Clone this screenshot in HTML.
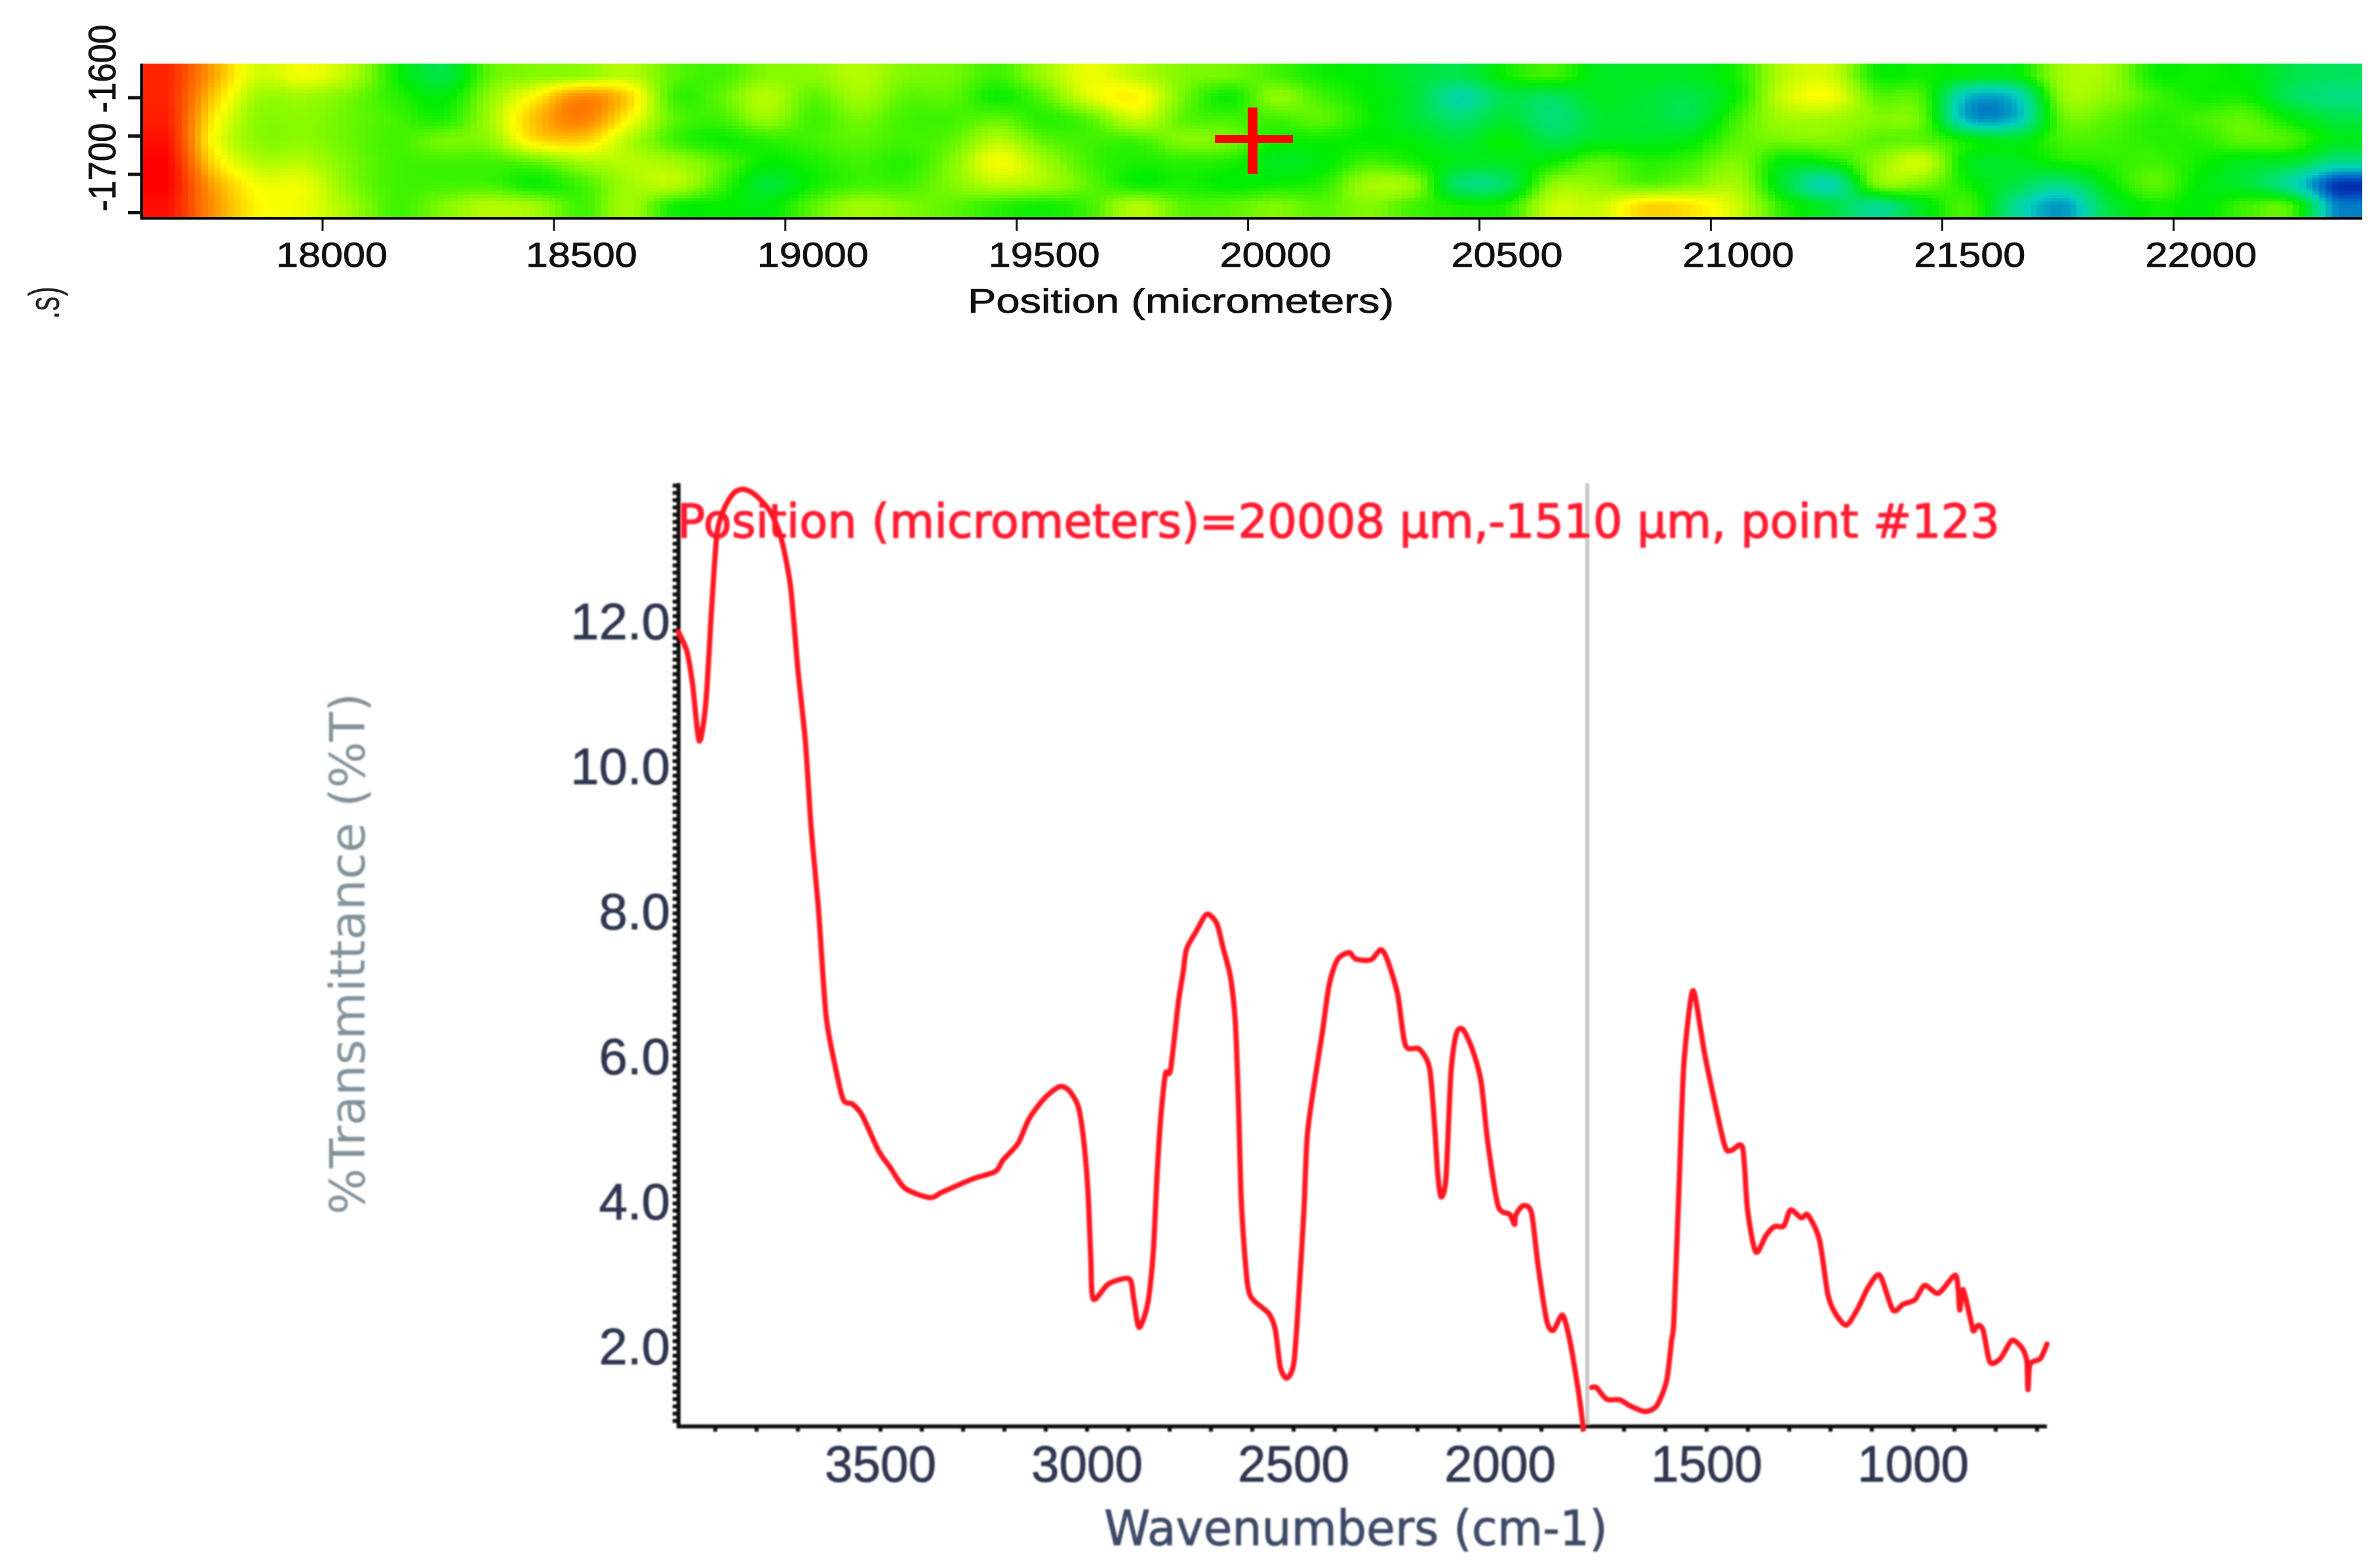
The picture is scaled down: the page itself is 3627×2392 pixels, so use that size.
<!DOCTYPE html>
<html lang="en">
<head>
<meta charset="utf-8">
<title>Position map and FTIR spectrum</title>
<style>
html,body{margin:0;padding:0;background:#fff;}
body{width:3627px;height:2392px;overflow:hidden;}
svg{display:block;}
text{font-family:"Liberation Sans",sans-serif;}
.dj{font-family:"DejaVu Sans","Liberation Sans",sans-serif;}
</style>
</head>
<body>
<svg id="root" xmlns="http://www.w3.org/2000/svg" width="3627" height="2392" viewBox="0 0 3627 2392">
  <defs>
    <filter id="soft" x="-2%" y="-2%" width="104%" height="104%"><feGaussianBlur stdDeviation="1.3"/></filter>
  </defs>
  <g id="map-cells" shape-rendering="crispEdges"></g>
  <g id="map-axes"></g>
  <text x="1801" y="477" text-anchor="middle" font-size="52" textLength="650" lengthAdjust="spacingAndGlyphs" fill="#111" stroke="#111" stroke-width="0.8">Position (micrometers)</text>
  <text transform="translate(90,462) rotate(-90)" text-anchor="middle" font-size="66" textLength="50" lengthAdjust="spacingAndGlyphs" fill="#222">.s)</text>
  <g fill="#ff0000">
    <rect x="1853" y="206" width="119" height="12"/>
    <rect x="1903" y="164" width="15" height="101"/>
  </g>

  <g id="spec-all" filter="url(#soft)">
    <rect x="2418" y="737" width="6" height="1439" fill="#c6c6c6"/>
    <g id="spec-axes"></g>
    <text class="dj" x="1033" y="820" font-size="71" textLength="2017" lengthAdjust="spacingAndGlyphs" fill="#ff1e32" stroke="#ff1e32" stroke-width="1.6">Position (micrometers)=20008 µm,-1510 µm, point #123</text>
    <g id="spec-line"></g>
    <text class="dj" x="2068" y="2357" text-anchor="middle" font-size="74" textLength="768" lengthAdjust="spacingAndGlyphs" fill="#3c4a66" stroke="#3c4a66" stroke-width="1">Wavenumbers (cm-1)</text>
    <text class="dj" transform="translate(556,1455) rotate(-90)" text-anchor="middle" font-size="74" textLength="796" lengthAdjust="spacingAndGlyphs" fill="#82929b">%Transmittance (%T)</text>
  </g>
</svg>
<script>
const heatValues = [
[95,78,63,66,60,46,38,52,55,56,60,52,50,55,56,60,55,54,50,58,65,60,55,54,50,46,44,40,38,46,50,42,42,42,47,60,62,46,46,44,44,58,58,46,46,44,38,36],
[95,74,58,58,54,48,44,56,68,80,72,50,52,60,52,58,52,52,46,52,64,68,54,46,56,50,45,40,28,38,36,42,40,38,46,62,66,52,50,22,24,56,56,50,46,46,36,32],
[96,70,56,56,53,50,47,58,74,82,68,52,50,57,50,54,50,50,52,48,52,62,52,50,50,52,46,40,34,40,33,40,40,38,50,58,58,55,52,20,22,52,52,48,50,52,44,38],
[98,68,56,56,53,50,54,56,70,72,60,50,46,48,50,52,50,52,60,52,50,50,55,54,46,46,45,44,40,45,38,42,42,44,52,54,55,52,52,45,42,50,50,48,48,52,50,42],
[100,72,60,60,54,50,50,50,52,58,60,58,52,45,47,50,48,55,66,58,50,47,48,47,42,44,50,47,42,42,46,52,48,50,55,44,45,56,62,43,42,46,48,50,46,42,40,30],
[100,78,66,65,55,50,50,50,46,50,58,60,50,40,46,50,50,55,60,58,52,46,47,45,46,48,58,56,34,36,56,56,52,55,58,40,27,54,54,46,38,32,44,52,44,40,28,6],
[98,80,68,65,58,50,55,60,58,50,58,46,45,44,52,58,55,52,48,46,50,60,52,52,55,52,55,50,47,48,62,62,72,70,62,48,40,30,42,50,30,18,38,46,44,50,50,15]
];
const colorStops = [0,12,25,35,45,55,67,80,100];
const mapXTickValues = [18000,18500,19000,19500,20000,20500,21000,21500,22000];
const mapYTickValues = [-1600,-1650,-1700,-1750];
const mapYLabels = ["-1600","-1700"];
const specXTickLabels = [3500,3000,2500,2000,1500,1000];
const specYTickLabels = [2,4,6,8,10,12];
const wavenumbers = [3989,3969,3955,3939,3923,3909,3896,3878,3855,3832,3805,3768,3741,3718,3700,3682,3668,3650,3632,3610,3590,3568,3545,3505,3477,3441,3381,3349,3276,3222,3203,3167,3140,3103,3067,3044,3021,3008,2998,2991,2985,2948,2898,2887,2874,2853,2840,2830,2821,2810,2798,2779,2767,2759,2734,2710,2686,2670,2653,2641,2633,2627,2617,2605,2560,2544,2532,2516,2499,2487,2475,2467,2451,2430,2414,2394,2366,2349,2313,2289,2273,2248,2229,2196,2171,2159,2151,2143,2131,2119,2106,2090,2067,2046,2030,2005,1977,1965,1962,1944,1924,1908,1887,1871,1849,1832,1811,1798,1790,1779,1767,1742,1710,1686,1649,1621,1597,1585,1579,1567,1555,1534,1514,1502,1458,1441,1413,1401,1381,1356,1336,1313,1297,1271,1255,1227,1207,1190,1162,1134,1109,1081,1049,1024,996,972,939,899,891,887,879,858,854,842,830,814,789,761,737,725,722,717,692,676];
const transmittance = [11.88,11.62,11.16,10.38,10.90,12.19,13.23,13.59,13.80,13.85,13.78,13.55,13.18,12.51,11.36,10.38,9.18,8.04,6.6,5.90,5.43,5.37,5.22,4.73,4.50,4.21,4.08,4.16,4.34,4.44,4.60,4.83,5.17,5.45,5.61,5.56,5.33,4.86,4.18,3.25,2.68,2.89,2.96,2.68,2.29,2.62,3.30,4.44,5.22,5.79,5.84,6.77,7.20,7.51,7.77,7.99,7.86,7.51,7.13,6.50,5.30,4.09,3.21,2.73,2.48,2.25,1.74,1.59,1.81,2.76,3.90,4.92,5.61,6.37,7.01,7.36,7.46,7.37,7.36,7.50,7.36,6.88,6.18,6.13,5.87,5.11,4.41,4.09,4.35,5.80,6.34,6.40,6.12,5.68,4.85,3.97,3.85,3.71,3.84,3.97,3.87,3.14,2.38,2.25,2.46,2.13,1.43,0.89,null,1.46,1.46,1.30,1.29,1.21,1.13,1.21,1.55,2.10,2.41,4.20,5.92,6.93,6.38,5.98,4.83,4.73,4.77,3.91,3.33,3.56,3.68,3.69,3.91,3.80,3.84,3.50,2.76,2.50,2.32,2.55,2.84,3.01,2.53,2.61,2.67,2.87,2.76,3.01,2.81,2.53,2.81,2.32,2.24,2.32,2.24,1.81,1.86,2.11,2.01,1.83,1.43,1.78,1.86,2.06];

const NS = 'http://www.w3.org/2000/svg';
function shape(tag, parent, attrs, text) {
  const el = document.createElementNS(NS, tag);
  for (const k in attrs) el.setAttribute(k, attrs[k]);
  if (text !== undefined) el.textContent = text;
  parent.appendChild(el);
  return el;
}

/* ---------- heatmap ---------- */
const MAP_L = 217, MAP_R = 3603, MAP_T = 97, MAP_B = 332;
const stopRGB = [[0,0,150],[0,100,200],[0,210,190],[0,225,100],[0,238,0],[130,250,0],[255,255,0],[255,140,0],[255,0,0]];
function heatColor(v) {
  v = Math.max(colorStops[0], Math.min(colorStops[colorStops.length - 1], v));
  let i = 0;
  while (i < colorStops.length - 2 && v > colorStops[i + 1]) i++;
  const t = (v - colorStops[i]) / (colorStops[i + 1] - colorStops[i]);
  const a = stopRGB[i], b = stopRGB[i + 1];
  return 'rgb(' + Math.round(a[0] + (b[0] - a[0]) * t) + ',' + Math.round(a[1] + (b[1] - a[1]) * t) + ',' + Math.round(a[2] + (b[2] - a[2]) * t) + ')';
}
function catmull(p0, p1, p2, p3, t) {
  return 0.5 * (2 * p1 + (p2 - p0) * t + (2 * p0 - 5 * p1 + 4 * p2 - p3) * t * t + (3 * p1 - p0 - 3 * p2 + p3) * t * t * t);
}
function sampleHeat(u, v) {
  const rows = heatValues.length, cols = heatValues[0].length;
  u = Math.max(0, Math.min(cols - 1, u));
  v = Math.max(0, Math.min(rows - 1, v));
  const c = Math.min(cols - 2, Math.floor(u)), r = Math.min(rows - 2, Math.floor(v));
  const tu = u - c, tv = v - r, out = [];
  for (let j = -1; j <= 2; j++) {
    const row = heatValues[Math.max(0, Math.min(rows - 1, r + j))];
    out.push(catmull(row[Math.max(0, c - 1)], row[c], row[c + 1], row[Math.min(cols - 1, c + 2)], tu));
  }
  return catmull(out[0], out[1], out[2], out[3], tv);
}
const mapCells = document.getElementById('map-cells');
const cellW = 10, cellH = 5;
const gridCols = heatValues[0].length, gridRows = heatValues.length;
for (let y = MAP_T; y < MAP_B; y += cellH) {
  for (let x = MAP_L; x < MAP_R; x += cellW) {
    const u = (x + cellW / 2 - MAP_L) / (MAP_R - MAP_L) * gridCols - 0.5;
    const v = (y + cellH / 2 - MAP_T) / (MAP_B - MAP_T) * gridRows - 0.5;
    const cell = shape('rect', mapCells, {x: x, y: y, width: Math.min(cellW, MAP_R - x), height: Math.min(cellH, MAP_B - y), fill: heatColor(sampleHeat(u, v))});
    
    
  }
}

/* ---------- map axes ---------- */
const mapAxes = document.getElementById('map-axes');
function mapX(v) { return 492 + (v - 18000) * 0.7058; }
function mapY(v) { return 149 + (-1600 - v) * 1.17; }
const mapBottom = shape('rect', mapAxes, {x: MAP_L - 3, y: 331, width: MAP_R - MAP_L + 3, height: 4, fill: '#000'});


const mapLeft = shape('rect', mapAxes, {x: MAP_L - 3, y: MAP_T, width: 4, height: MAP_B - MAP_T + 3, fill: '#000'});


mapXTickValues.forEach(function (v, i) {
  const x = mapX(v);
  const t = shape('rect', mapAxes, {x: x - 1.5, y: 335, width: 3, height: 17, fill: '#111'});
  
  
  const shift = i === 0 ? 14 : 42;
  const l = shape('text', mapAxes, {x: x + shift, y: 407, 'text-anchor': 'middle', 'font-size': 53, textLength: 170, lengthAdjust: 'spacingAndGlyphs', fill: '#111', stroke: '#111', 'stroke-width': 0.8}, String(v));
  
  
});
mapYTickValues.forEach(function (v) {
  const y = mapY(v);
  const t = shape('rect', mapAxes, {x: 195, y: y - 2.5, width: 22, height: 5, fill: '#111'});
  
  
});
mapYLabels.forEach(function (s, i) {
  const cy = 105 + i * 150;
  const l = shape('text', mapAxes, {transform: 'translate(176,' + cy + ') rotate(-90)', 'text-anchor': 'middle', 'font-size': 58, textLength: 135, lengthAdjust: 'spacingAndGlyphs', fill: '#111', stroke: '#111', 'stroke-width': 0.8}, s);
  
  
});

/* ---------- spectrum ---------- */
function specX(w) { return 2918 + (1000 - w) * 0.63; }
function specY(t) { return 2057 - (t - 2) * 110.6; }
const specAxes = document.getElementById('spec-axes');
const SPEC_L = 1035, SPEC_R = 3122, SPEC_T = 737, SPEC_B = 2176;
const specLeft = shape('rect', specAxes, {x: SPEC_L - 3, y: SPEC_T, width: 6, height: SPEC_B - SPEC_T + 3, fill: '#0a0a0a'});


const specBottom = shape('rect', specAxes, {x: SPEC_L - 3, y: SPEC_B - 3, width: SPEC_R - SPEC_L + 3, height: 6, fill: '#0a0a0a'});


for (let w = 3900; w >= 700; w -= 100) {
  const t = shape('rect', specAxes, {x: specX(w) - 3, y: SPEC_B, width: 6, height: 8, fill: '#0a0a0a'});
  
  
}
for (let k = 10; k <= 139; k++) {
  const t = shape('rect', specAxes, {x: SPEC_L - 9, y: specY(k / 10) - 3, width: 7, height: 6, fill: '#0a0a0a'});
  
  
}
specXTickLabels.forEach(function (w) {
  const l = shape('text', specAxes, {x: specX(w), y: 2260, 'text-anchor': 'middle', 'font-size': 78, textLength: 170, lengthAdjust: 'spacingAndGlyphs', fill: '#2e3550', stroke: '#2e3550', 'stroke-width': 1}, String(w));
  
  
});
specYTickLabels.forEach(function (v) {
  const l = shape('text', specAxes, {x: 1022, y: specY(v) + 24, 'text-anchor': 'end', 'font-size': 78, fill: '#2e3550', stroke: '#2e3550', 'stroke-width': 1}, v.toFixed(1));
  
  
});
const specLine = document.getElementById('spec-line');
let run = [];
function smoothPath(pts) {
  let d = 'M' + pts[0][0].toFixed(1) + ' ' + pts[0][1].toFixed(1);
  for (let i = 0; i < pts.length - 1; i++) {
    const p0 = pts[Math.max(0, i - 1)], p1 = pts[i], p2 = pts[i + 1], p3 = pts[Math.min(pts.length - 1, i + 2)];
    const k = 0.13;
    d += 'C' + (p1[0] + (p2[0] - p0[0]) * k).toFixed(1) + ' ' + (p1[1] + (p2[1] - p0[1]) * k).toFixed(1) + ' ' +
         (p2[0] - (p3[0] - p1[0]) * k).toFixed(1) + ' ' + (p2[1] - (p3[1] - p1[1]) * k).toFixed(1) + ' ' +
         p2[0].toFixed(1) + ' ' + p2[1].toFixed(1);
  }
  return d;
}
function flushRun() {
  if (run.length > 1) {
    const seg = shape('path', specLine, {d: smoothPath(run), fill: 'none', stroke: '#ff1820', 'stroke-width': 8, 'stroke-linejoin': 'round', 'stroke-linecap': 'round'});
    
    
  }
  run = [];
}
wavenumbers.forEach(function (w, i) {
  const t = transmittance[i];
  if (t === null) { flushRun(); return; }
  run.push([specX(w), specY(t)]);
});
flushRun();
</script>
</body>
</html>
